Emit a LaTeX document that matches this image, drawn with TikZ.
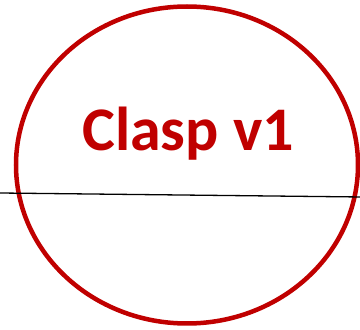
\documentclass[tikz,border=0pt]{standalone}
\usepackage{fontspec}
\setmainfont{Carlito}
\usetikzlibrary{shapes}

\begin{document}
\begin{tikzpicture}[x=1pt,y=1pt]
\tikzset{
	ring/.style={draw=claspred,
		line width=4.5pt
},
	cut/.style={draw=black,
		line width=1.3pt
},
	titletext/.style={text=claspred,
		font=\bfseries\fontsize{62}{62}\selectfont,
		inner sep=0pt
}}
\definecolor{claspred}{HTML}{C00000}

\useasboundingbox (0,0) rectangle (360,330);
\draw[ring] (187,165) ellipse [x radius=171, y radius=158.5];
\coordinate (CutL) at (0,137);
\coordinate (CutR) at (362,133);
\draw[cut] (CutL) -- (CutR);
\node[titletext] (Title) at (188,196) {Clasp v1};
\end{tikzpicture}
\end{document}
